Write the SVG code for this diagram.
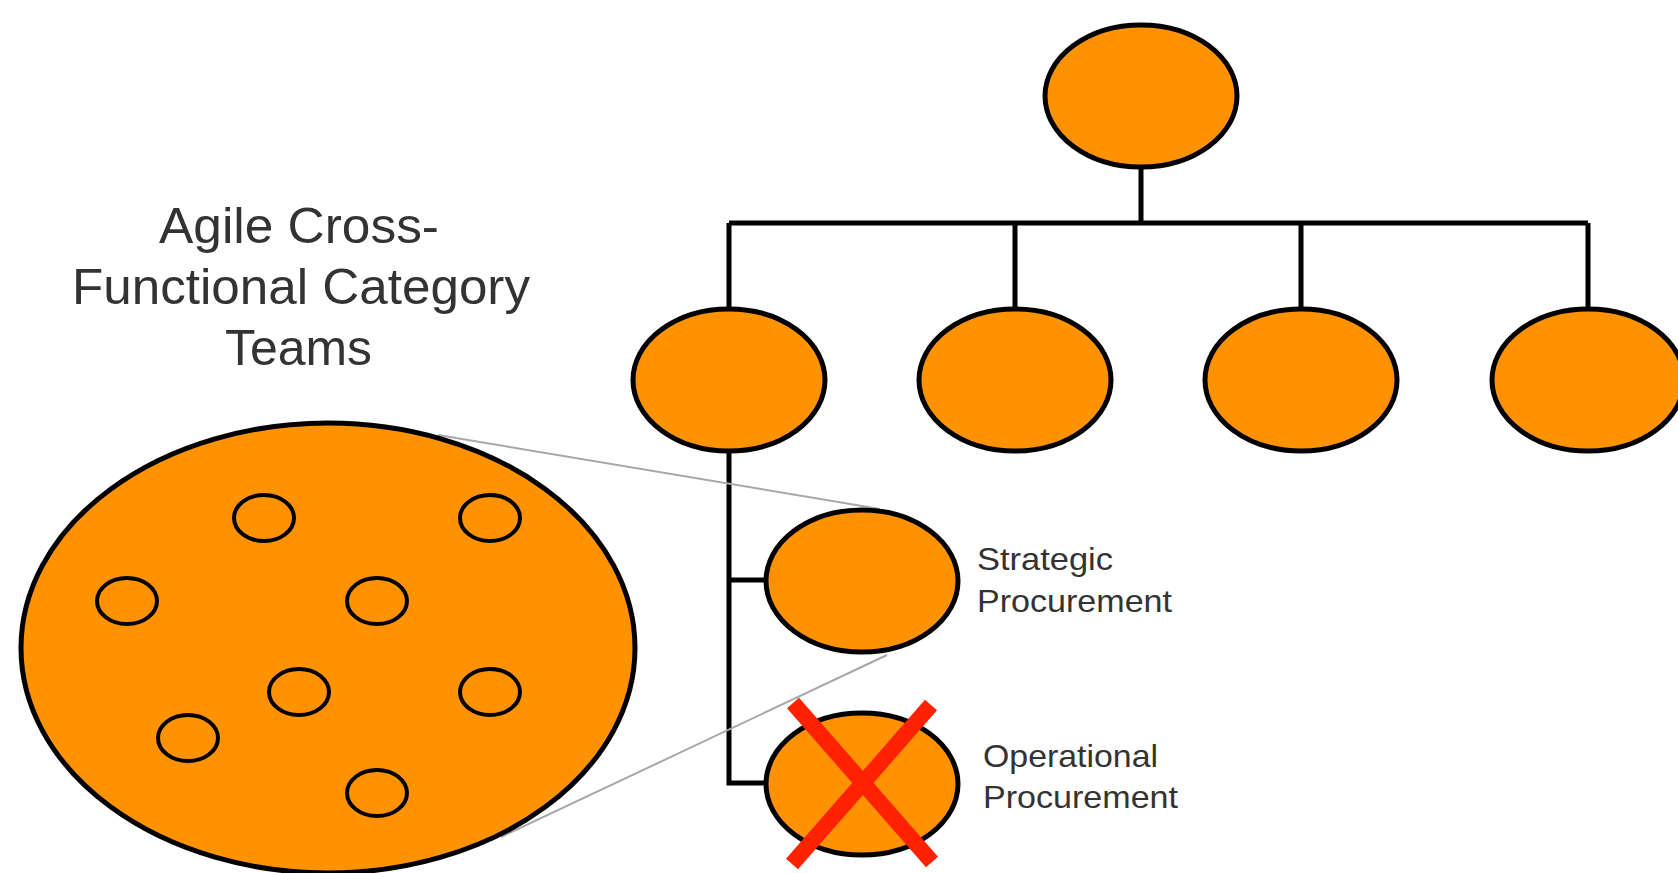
<svg xmlns="http://www.w3.org/2000/svg" width="1678" height="873" viewBox="0 0 1678 873">
<style>
.node{fill:#ff9200;stroke:#000;stroke-width:5}
.small{fill:none;stroke:#000;stroke-width:4}
.conn{stroke:#000;stroke-width:5;fill:none}
.zoom{stroke:#a8a8a8;stroke-width:2;fill:none}
.title{font-family:"Liberation Sans",Arial,sans-serif;font-size:50px;fill:#333;text-anchor:middle}
.lbl{font-family:"Liberation Sans",Arial,sans-serif;font-size:32px;fill:#333}
.x{stroke:#ff2200;stroke-width:16;stroke-linecap:butt}
</style>
<rect width="1678" height="873" fill="#fff"/>
<g id="title">
<text class="title" x="299" y="243" textLength="280" lengthAdjust="spacingAndGlyphs">Agile Cross-</text>
<text class="title" x="301" y="304" textLength="458" lengthAdjust="spacingAndGlyphs">Functional Category</text>
<text class="title" x="298.5" y="365" textLength="147" lengthAdjust="spacingAndGlyphs">Teams</text>
</g>
<g id="connectors">
<path class="conn" d="M1141 166 V223 M729 223 H1588 M729 223 V309 M1015 223 V309 M1301 223 V309 M1588 223 V309 M729 451 V783 H766 M729 580 H766"/>
<line class="zoom" x1="438" y1="435" x2="880" y2="509"/>
<line class="zoom" x1="501" y1="837" x2="887" y2="655"/>
</g>
<g id="team-circle">
<ellipse class="node" cx="328" cy="648" rx="307" ry="225"/>
<ellipse class="small" cx="264" cy="518" rx="30" ry="23"/>
<ellipse class="small" cx="490" cy="518" rx="30" ry="23"/>
<ellipse class="small" cx="127" cy="601" rx="30" ry="23"/>
<ellipse class="small" cx="377" cy="601" rx="30" ry="23"/>
<ellipse class="small" cx="299" cy="692" rx="30" ry="23"/>
<ellipse class="small" cx="490" cy="692" rx="30" ry="23"/>
<ellipse class="small" cx="188" cy="738" rx="30" ry="23"/>
<ellipse class="small" cx="377" cy="793" rx="30" ry="23"/>
</g>
<g id="top"><ellipse class="node" cx="1141" cy="96" rx="96" ry="71"/></g>
<g id="n1"><ellipse class="node" cx="729" cy="380" rx="96" ry="71"/></g>
<g id="n2"><ellipse class="node" cx="1015" cy="380" rx="96" ry="71"/></g>
<g id="n3"><ellipse class="node" cx="1301" cy="380" rx="96" ry="71"/></g>
<g id="n4"><ellipse class="node" cx="1588" cy="380" rx="96" ry="71"/></g>
<g id="strategic">
<ellipse class="node" cx="862" cy="581" rx="96" ry="71"/>
<text class="lbl" x="977" y="570" textLength="136" lengthAdjust="spacingAndGlyphs">Strategic</text>
<text class="lbl" x="977" y="612" textLength="195" lengthAdjust="spacingAndGlyphs">Procurement</text>
</g>
<g id="operational">
<ellipse class="node" cx="862" cy="784" rx="96" ry="71"/>
<line class="x" x1="793" y1="703" x2="932" y2="862"/>
<line class="x" x1="931" y1="705" x2="792" y2="864"/>
<text class="lbl" x="983" y="767" textLength="175" lengthAdjust="spacingAndGlyphs">Operational</text>
<text class="lbl" x="983" y="808" textLength="195" lengthAdjust="spacingAndGlyphs">Procurement</text>
</g>
</svg>
